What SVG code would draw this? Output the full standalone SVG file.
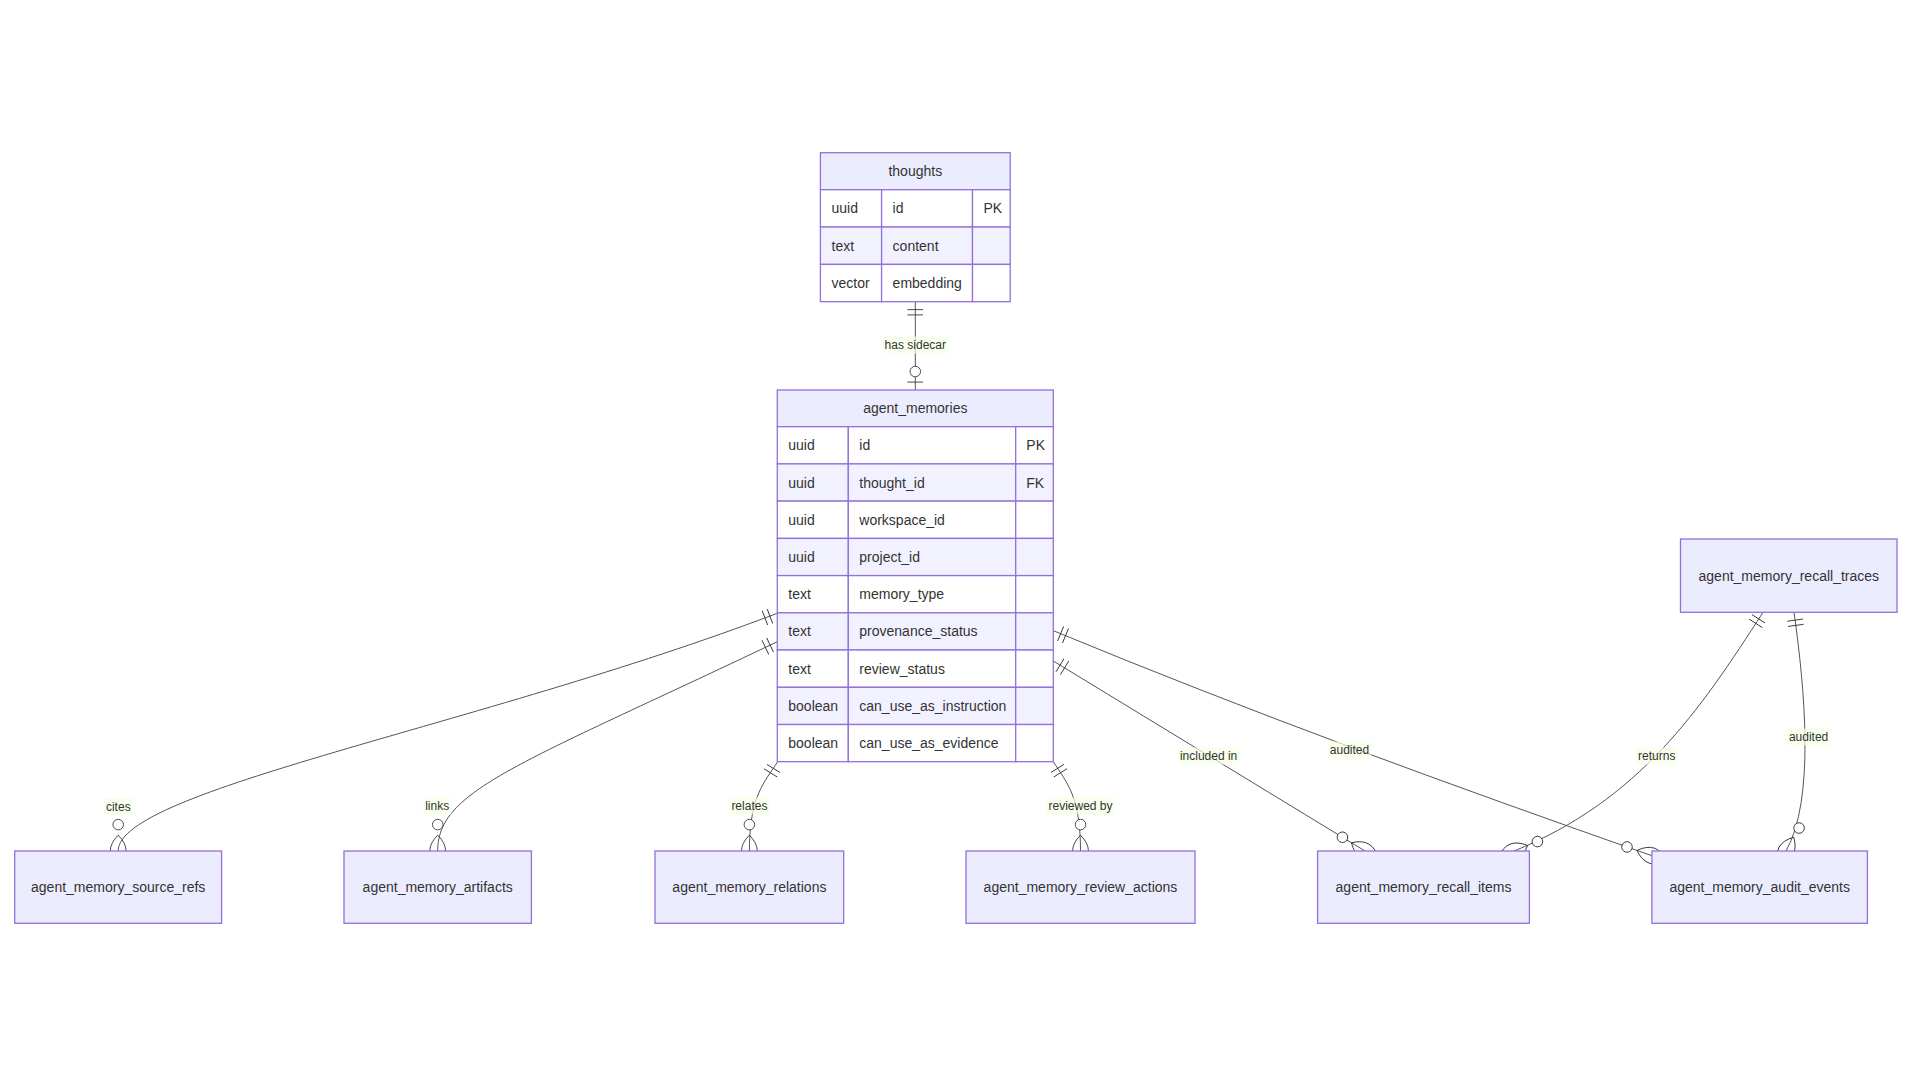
<svg xmlns="http://www.w3.org/2000/svg" width="1920" height="1080" viewBox="0 0 1920 1080">
<style>
  text { font-family: "Liberation Sans", Arial, sans-serif; fill: #333333; dominant-baseline: central; }
  .ent { font-size: 14px; }
  .c { text-anchor: middle; }
  .box { fill: #ECECFF; stroke: #9370DB; stroke-width: 1.3; }
  .hdr { fill: #ECECFF; stroke: #9370DB; stroke-width: 1.3; }
  .odd { fill: #FFFFFF; stroke: #9370DB; stroke-width: 1.3; }
  .even { fill: #F2F1FF; stroke: #9370DB; stroke-width: 1.3; }
  .rel { fill: none; stroke: #555555; stroke-width: 1; }
  .mk { fill: none; stroke: #333333; stroke-width: 1; }
  .mkc { fill: #FFFFFF; stroke: #333333; stroke-width: 1; }
  .lbg { fill: #F7FFE6; opacity: 0.7; }
  .lbl { font-size: 12px; text-anchor: middle; }
</style>
<defs>
  <marker id="oneStart" viewBox="0 0 18 18" refX="0" refY="9" markerWidth="15.84" markerHeight="15.84" markerUnits="userSpaceOnUse" orient="auto">
    <path class="mk" d="M9,0 L9,18 M15,0 L15,18"/>
  </marker>
  <marker id="zeroOneEnd" viewBox="0 0 30 18" refX="30" refY="9" markerWidth="26.4" markerHeight="15.84" markerUnits="userSpaceOnUse" orient="auto">
    <circle class="mkc" cx="9" cy="9" r="6"/>
    <path class="mk" d="M21,0 L21,18"/>
  </marker>
  <marker id="zeroManyEnd" viewBox="0 0 57 36" refX="39" refY="18" markerWidth="50.16" markerHeight="31.68" markerUnits="userSpaceOnUse" orient="auto">
    <circle class="mkc" cx="9" cy="18" r="6"/>
    <path class="mk" d="M21,18 Q39,0 57,18 Q39,36 21,18"/>
  </marker>
</defs>
<rect x="0" y="0" width="1920" height="1080" fill="#FFFFFF"/>

<g id="connectors">
  <path class="rel" d="M915.3,301.7 L915.3,390" marker-start="url(#oneStart)" marker-end="url(#zeroOneEnd)"/>
  <path class="rel" d="M777.3,613.3 C477.3,727.3 118.2,790 118.2,851" marker-start="url(#oneStart)" marker-end="url(#zeroManyEnd)"/>
  <path class="rel" d="M777.3,641.7 C517.3,765.6 437.7,790 437.7,851" marker-start="url(#oneStart)" marker-end="url(#zeroManyEnd)"/>
  <path class="rel" d="M777.6,761.7 C765,782 749.4,795 749.4,851" marker-start="url(#oneStart)" marker-end="url(#zeroManyEnd)"/>
  <path class="rel" d="M1053.3,761.7 C1066,782 1080.5,795 1080.5,851" marker-start="url(#oneStart)" marker-end="url(#zeroManyEnd)"/>
  <path class="rel" d="M1053.3,661 L1365,851" marker-start="url(#oneStart)" marker-end="url(#zeroManyEnd)"/>
  <path class="rel" d="M1053.3,630.7 C1250,712 1450,785 1651.9,855.7" marker-start="url(#oneStart)" marker-end="url(#zeroManyEnd)"/>
  <path class="rel" d="M1763,612.3 C1700,710 1640,800 1513,851.5" marker-start="url(#oneStart)" marker-end="url(#zeroManyEnd)"/>
  <path class="rel" d="M1794,612.3 C1805,690 1815,800 1786,851" marker-start="url(#oneStart)" marker-end="url(#zeroManyEnd)"/>

  <rect class="lbg" x="882.6" y="336.5" width="65.4" height="17"/>
  <text class="lbl" x="915.3" y="345">has sidecar</text>
  <rect class="lbg" x="104" y="798" width="28.7" height="17"/>
  <text class="lbl" x="118.3" y="806.5">cites</text>
  <rect class="lbg" x="423.2" y="797.5" width="28" height="17"/>
  <text class="lbl" x="437.2" y="806">links</text>
  <rect class="lbg" x="729.4" y="797.5" width="40" height="17"/>
  <text class="lbl" x="749.4" y="806">relates</text>
  <rect class="lbg" x="1046.5" y="797.5" width="68" height="17"/>
  <text class="lbl" x="1080.5" y="806">reviewed by</text>
  <rect class="lbg" x="1177.9" y="747.5" width="61.4" height="17"/>
  <text class="lbl" x="1208.6" y="756">included in</text>
  <rect class="lbg" x="1327.8" y="741.5" width="43.4" height="17"/>
  <text class="lbl" x="1349.5" y="750">audited</text>
  <rect class="lbg" x="1636.2" y="747.5" width="41.3" height="17"/>
  <text class="lbl" x="1656.8" y="756">returns</text>
  <rect class="lbg" x="1786.9" y="728.5" width="43.4" height="17"/>
  <text class="lbl" x="1808.6" y="737">audited</text>
</g>

<g id="thoughts">
  <rect class="hdr" x="820.4" y="152.7" width="189.8" height="37"/>
  <text class="ent c" x="915.3" y="171.2">thoughts</text>
  <rect class="odd" x="820.4" y="189.7" width="61.2" height="37.3"/>
  <rect class="odd" x="881.6" y="189.7" width="90.9" height="37.3"/>
  <rect class="odd" x="972.5" y="189.7" width="37.7" height="37.3"/>
  <rect class="even" x="820.4" y="227" width="61.2" height="37.4"/>
  <rect class="even" x="881.6" y="227" width="90.9" height="37.4"/>
  <rect class="even" x="972.5" y="227" width="37.7" height="37.4"/>
  <rect class="odd" x="820.4" y="264.4" width="61.2" height="37.3"/>
  <rect class="odd" x="881.6" y="264.4" width="90.9" height="37.3"/>
  <rect class="odd" x="972.5" y="264.4" width="37.7" height="37.3"/>
  <text class="ent" x="831.5" y="208.4">uuid</text>
  <text class="ent" x="892.6" y="208.4">id</text>
  <text class="ent" x="983.5" y="208.4">PK</text>
  <text class="ent" x="831.5" y="245.7">text</text>
  <text class="ent" x="892.6" y="245.7">content</text>
  <text class="ent" x="831.5" y="283">vector</text>
  <text class="ent" x="892.6" y="283">embedding</text>
</g>

<g id="agent_memories">
  <rect class="hdr" x="777.3" y="390" width="276" height="36.7"/>
  <text class="ent c" x="915.3" y="408.4">agent_memories</text>
  <g>
    <rect class="odd" x="777.3" y="426.7" width="71" height="37.2"/><rect class="odd" x="848.3" y="426.7" width="167.4" height="37.2"/><rect class="odd" x="1015.7" y="426.7" width="37.6" height="37.2"/>
    <rect class="even" x="777.3" y="463.9" width="71" height="37.2"/><rect class="even" x="848.3" y="463.9" width="167.4" height="37.2"/><rect class="even" x="1015.7" y="463.9" width="37.6" height="37.2"/>
    <rect class="odd" x="777.3" y="501.1" width="71" height="37.3"/><rect class="odd" x="848.3" y="501.1" width="167.4" height="37.3"/><rect class="odd" x="1015.7" y="501.1" width="37.6" height="37.3"/>
    <rect class="even" x="777.3" y="538.4" width="71" height="37.2"/><rect class="even" x="848.3" y="538.4" width="167.4" height="37.2"/><rect class="even" x="1015.7" y="538.4" width="37.6" height="37.2"/>
    <rect class="odd" x="777.3" y="575.6" width="71" height="37.2"/><rect class="odd" x="848.3" y="575.6" width="167.4" height="37.2"/><rect class="odd" x="1015.7" y="575.6" width="37.6" height="37.2"/>
    <rect class="even" x="777.3" y="612.8" width="71" height="37.2"/><rect class="even" x="848.3" y="612.8" width="167.4" height="37.2"/><rect class="even" x="1015.7" y="612.8" width="37.6" height="37.2"/>
    <rect class="odd" x="777.3" y="650" width="71" height="37.3"/><rect class="odd" x="848.3" y="650" width="167.4" height="37.3"/><rect class="odd" x="1015.7" y="650" width="37.6" height="37.3"/>
    <rect class="even" x="777.3" y="687.3" width="71" height="37.2"/><rect class="even" x="848.3" y="687.3" width="167.4" height="37.2"/><rect class="even" x="1015.7" y="687.3" width="37.6" height="37.2"/>
    <rect class="odd" x="777.3" y="724.5" width="71" height="37.2"/><rect class="odd" x="848.3" y="724.5" width="167.4" height="37.2"/><rect class="odd" x="1015.7" y="724.5" width="37.6" height="37.2"/>
  </g>
  <text class="ent" x="788.3" y="445.3">uuid</text><text class="ent" x="859.3" y="445.3">id</text><text class="ent" x="1026.3" y="445.3">PK</text>
  <text class="ent" x="788.3" y="482.5">uuid</text><text class="ent" x="859.3" y="482.5">thought_id</text><text class="ent" x="1026.3" y="482.5">FK</text>
  <text class="ent" x="788.3" y="519.7">uuid</text><text class="ent" x="859.3" y="519.7">workspace_id</text>
  <text class="ent" x="788.3" y="557">uuid</text><text class="ent" x="859.3" y="557">project_id</text>
  <text class="ent" x="788.3" y="594.2">text</text><text class="ent" x="859.3" y="594.2">memory_type</text>
  <text class="ent" x="788.3" y="631.4">text</text><text class="ent" x="859.3" y="631.4">provenance_status</text>
  <text class="ent" x="788.3" y="668.6">text</text><text class="ent" x="859.3" y="668.6">review_status</text>
  <text class="ent" x="788.3" y="705.9">boolean</text><text class="ent" x="859.3" y="705.9">can_use_as_instruction</text>
  <text class="ent" x="788.3" y="743.1">boolean</text><text class="ent" x="859.3" y="743.1">can_use_as_evidence</text>
</g>

<g id="agent_memory_source_refs">
  <rect class="box" x="14.7" y="851" width="206.9" height="72.3"/>
  <text class="ent c" x="118.2" y="887">agent_memory_source_refs</text>
</g>
<g id="agent_memory_artifacts">
  <rect class="box" x="344" y="851" width="187.4" height="72.3"/>
  <text class="ent c" x="437.7" y="887">agent_memory_artifacts</text>
</g>
<g id="agent_memory_relations">
  <rect class="box" x="655" y="851" width="188.7" height="72.3"/>
  <text class="ent c" x="749.4" y="887">agent_memory_relations</text>
</g>
<g id="agent_memory_review_actions">
  <rect class="box" x="966" y="851" width="229" height="72.3"/>
  <text class="ent c" x="1080.5" y="887">agent_memory_review_actions</text>
</g>
<g id="agent_memory_recall_items">
  <rect class="box" x="1317.6" y="851" width="211.8" height="72.3"/>
  <text class="ent c" x="1423.5" y="887">agent_memory_recall_items</text>
</g>
<g id="agent_memory_audit_events">
  <rect class="box" x="1651.9" y="851" width="215.5" height="72.3"/>
  <text class="ent c" x="1759.7" y="887">agent_memory_audit_events</text>
</g>
<g id="agent_memory_recall_traces">
  <rect class="box" x="1680.5" y="539" width="216.5" height="73.3"/>
  <text class="ent c" x="1788.8" y="575.7">agent_memory_recall_traces</text>
</g>
</svg>
